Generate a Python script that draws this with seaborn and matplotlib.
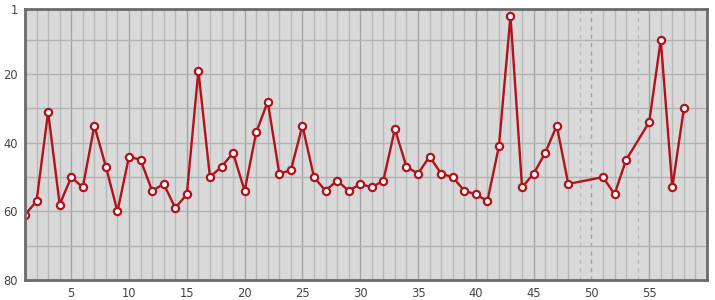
import numpy as np
import pandas as pd
import matplotlib
matplotlib.use("Agg")
import matplotlib.pyplot as plt
import seaborn as sns

# ---- data ----
x_vals = [1, 2, 3, 4, 5, 6, 7, 8, 9, 10, 11, 12, 13, 14, 15, 16, 17, 18, 19, 20,
          21, 22, 23, 24, 25, 26, 27, 28, 29, 30, 31, 32, 33, 34, 35, 36, 37, 38, 39, 40,
          41, 42, 43, 44, 45, 46, 47, 48, 51, 52, 53, 55, 56, 57, 58]
y_vals = [61, 57, 31, 58, 50, 53, 35, 47, 60, 44, 45, 54, 52, 59, 55, 19, 50, 47, 43, 54,
          37, 28, 49, 48, 35, 50, 54, 51, 54, 52, 53, 51, 36, 47, 49, 44, 49, 50, 54, 55,
          57, 41, 3, 53, 49, 43, 35, 52, 50, 55, 45, 34, 10, 53, 30]
x_ticks = [5, 10, 15, 20, 25, 30, 35, 40, 45, 50, 55]
y_ticks = [1, 20, 40, 60, 80]
y_grid = [10, 20, 30, 40, 50, 60, 70]

df = pd.DataFrame({"x": x_vals, "y": y_vals})

sns.set_style("white")
fig = plt.figure(figsize=(7.15, 3.0), dpi=100)
W, H = 715, 300
ax = fig.add_axes([25 / W, 1 - 280 / H, (707 - 25) / W, (280 - 9) / H])
ax.set_facecolor("#d9d9d9")

xmin, xmax = 1, 60
ax.set_xlim(xmin, xmax)
ax.set_ylim(80, 1)

# grid lines
missing = set(range(1, max(x_vals) + 1)) - set(x_vals)
for gx in range(xmin + 1, xmax):
    major = gx % 5 == 0
    col = "#a3a3a3" if major else "#b9b9b9"
    if gx in missing:
        ax.axvline(gx, color=col, lw=1.0, ls=(0, (3, 3)), zorder=1)
    else:
        ax.axvline(gx, color=col, lw=1.0, zorder=1)
for gy in y_grid:
    ax.axhline(gy, color="#b3b3b3", lw=1.0, zorder=1)

red = "#b3121b"
sns.lineplot(data=df, x="x", y="y", ax=ax, color=red, lw=1.7,
             marker="o", markersize=5.2, markerfacecolor="white",
             markeredgecolor=red, markeredgewidth=1.6, zorder=3)

ax.set_xticks(x_ticks)
ax.set_yticks(y_ticks)
ax.tick_params(length=0, labelsize=8.3, labelcolor="#444444", pad=5)
ax.set_xlabel("")
ax.set_ylabel("")
for s in ax.spines.values():
    s.set_visible(True)
    s.set_color("#6a6a6a")
    s.set_linewidth(2)
    s.set_zorder(4)

fig.savefig("out.png", dpi=100)
